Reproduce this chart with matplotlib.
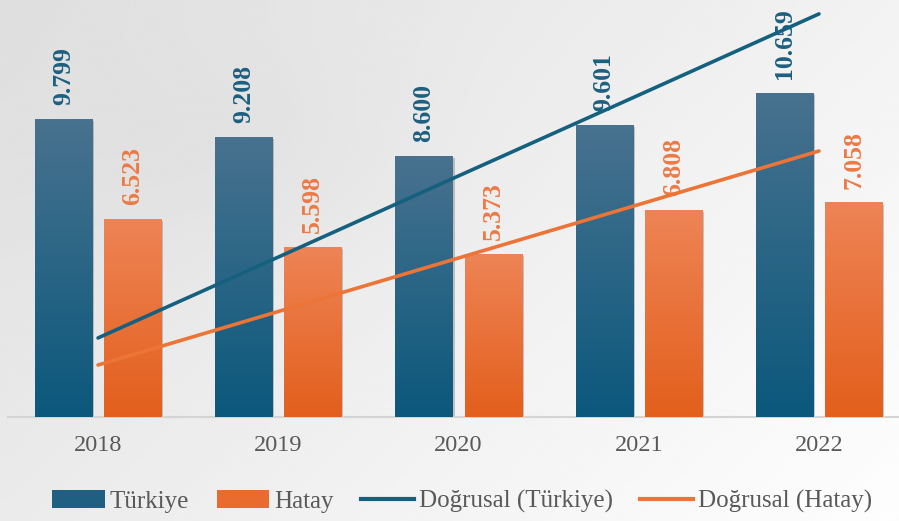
import numpy as np
import matplotlib
matplotlib.use("Agg")
import matplotlib.pyplot as plt
from matplotlib.colors import LinearSegmentedColormap
from matplotlib.patches import Patch
from matplotlib.lines import Line2D
import matplotlib.patheffects as pe

# data
years = ["2018", "2019", "2020", "2021", "2022"]
turkiye = [9.799, 9.208, 8.600, 9.601, 10.659]
hatay = [6.523, 5.598, 5.373, 6.808, 7.058]
turkiye_labels = ["9.799", "9.208", "8.600", "9.601", "10.659"]
hatay_labels = ["6.523", "5.598", "5.373", "6.808", "7.058"]
# trend lines (drawn on their own scale in the original)
trend_turkiye = [2.60, 5.26, 7.93, 10.59, 13.26]
trend_hatay = [1.71, 3.47, 5.23, 6.99, 8.75]

blue_top, blue_bot = "#48728f", "#0b587c"
orange_top, orange_bot = "#ee8456", "#e35f1c"
blue_line, orange_line = "#15607f", "#ec7436"

plt.rcParams["font.family"] = ["Liberation Serif", "DejaVu Serif"]

fig = plt.figure(figsize=(8.99, 5.21), dpi=100)

# background
bg = fig.add_axes([0, 0, 1, 1], zorder=-10)
gx, gy = np.meshgrid(np.linspace(0, 1, 300), np.linspace(0, 1, 200))
shade = 0.875 + 0.075 * gx + 0.045 * gy - 0.02 * np.exp(-((gx - 0.25) ** 2 + (gy - 0.3) ** 2) / 0.05)
bg.imshow(np.clip(shade, 0, 1), cmap="gray", vmin=0, vmax=1, aspect="auto",
          extent=[0, 1, 0, 1], interpolation="bicubic")
bg.axis("off")

ax = fig.add_axes([8 / 899, 104 / 521, 1 - 8 / 899, 417 / 521])
ax.set_facecolor("none")

x = np.arange(len(years))
w = 0.317
off = (w + 12 / 180.25) / 2

cm_blue = LinearSegmentedColormap.from_list("b", [blue_bot, blue_top])
cm_orange = LinearSegmentedColormap.from_list("o", [orange_bot, orange_top])
grad = np.linspace(0, 1, 256).reshape(-1, 1)

shadow = [pe.SimplePatchShadow(offset=(1.5, -1.5), shadow_rgbFace="#505050", alpha=0.3), pe.Normal()]

for vals, pos, cmap in [(turkiye, x - off, cm_blue), (hatay, x + off, cm_orange)]:
    bars = ax.bar(pos, vals, width=w, color=cmap(0.5), zorder=2, path_effects=shadow)
    for b in bars:
        bx, by, bw, bh = b.get_x(), b.get_y(), b.get_width(), b.get_height()
        im = ax.imshow(grad, cmap=cmap, aspect="auto", origin="lower",
                       extent=[bx, bx + bw, by, by + bh], zorder=3)
        im.set_clip_path(b)

for i in range(len(years)):
    ax.annotate(turkiye_labels[i], (x[i] - off, turkiye[i]), xytext=(0, 10),
                textcoords="offset points", rotation=90, ha="center", va="bottom",
                fontsize=18.5, fontweight="bold", color="#1d5f80", zorder=4)
    ax.annotate(hatay_labels[i], (x[i] + off, hatay[i]), xytext=(0, 10),
                textcoords="offset points", rotation=90, ha="center", va="bottom",
                fontsize=18.5, fontweight="bold", color="#ec7a45", zorder=4)

ax.plot(x, trend_turkiye, color=blue_line, lw=2.6, solid_capstyle="round", zorder=5)
ax.plot(x, trend_hatay, color=orange_line, lw=2.6, solid_capstyle="round", zorder=5)

ax.set_xlim((8 - 98) / 180.25, (899 - 98) / 180.25)
ax.set_ylim(0, 417 / 30.4)
ax.set_xticks(x)
ax.set_xticklabels(years, fontsize=17.5, color="#595959")
ax.tick_params(axis="x", length=0, pad=13)
ax.set_yticks([])
for s in ["top", "right", "left"]:
    ax.spines[s].set_visible(False)
ax.spines["bottom"].set_color("#d4d4d4")
ax.spines["bottom"].set_linewidth(1.5)

handles = [
    Patch(facecolor="#1f5f82", edgecolor="none"),
    Patch(facecolor="#e96c2e", edgecolor="none"),
    Line2D([], [], color=blue_line, lw=3),
    Line2D([], [], color=orange_line, lw=3),
]
labels = ["Türkiye", "Hatay", "Doğrusal (Türkiye)", "Doğrusal (Hatay)"]
leg = fig.legend(handles, labels, loc="center", bbox_to_anchor=(0.514, 0.037), ncol=4,
                 frameon=False, fontsize=18, handlelength=2.1, handletextpad=0.2,
                 columnspacing=1.1, labelcolor="#595959")

fig.savefig("out.png", dpi=100)
